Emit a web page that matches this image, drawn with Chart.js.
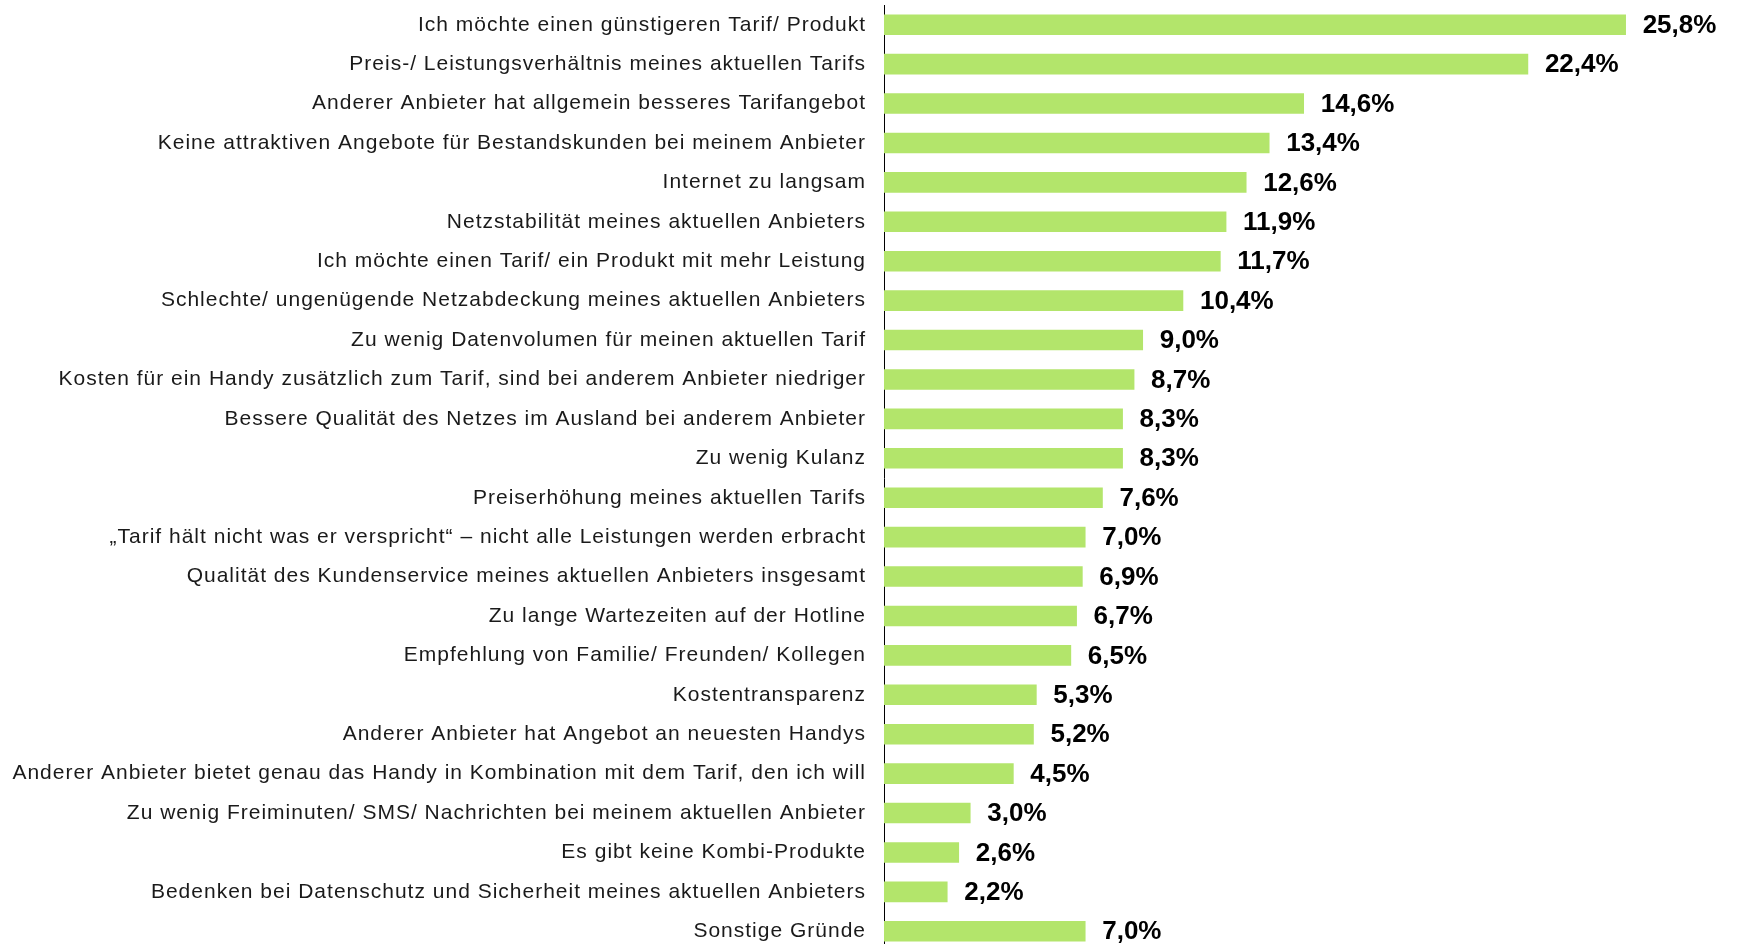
<!DOCTYPE html>
<html>
<head>
<meta charset="utf-8">
<script src="https://cdn.jsdelivr.net/npm/chart.js@4"></script>
<style>
  html, body { margin: 0; padding: 0; background: #fff; overflow: hidden; }
  /* slightly taller than the window: the last category runs off the bottom edge */
  #wrap { width: 1737px; height: 951px; position: relative; }
</style>
</head>
<body>
<div id="wrap"><canvas id="chart"></canvas></div>
<script>
'use strict'

const reasons = [
  'Ich möchte einen günstigeren Tarif/ Produkt',
  'Preis-/ Leistungsverhältnis meines aktuellen Tarifs',
  'Anderer Anbieter hat allgemein besseres Tarifangebot',
  'Keine attraktiven Angebote für Bestandskunden bei meinem Anbieter',
  'Internet zu langsam',
  'Netzstabilität meines aktuellen Anbieters',
  'Ich möchte einen Tarif/ ein Produkt mit mehr Leistung',
  'Schlechte/ ungenügende Netzabdeckung meines aktuellen Anbieters',
  'Zu wenig Datenvolumen für meinen aktuellen Tarif',
  'Kosten für ein Handy zusätzlich zum Tarif, sind bei anderem Anbieter niedriger',
  'Bessere Qualität des Netzes im Ausland bei anderem Anbieter',
  'Zu wenig Kulanz',
  'Preiserhöhung meines aktuellen Tarifs',
  '„Tarif hält nicht was er verspricht“ – nicht alle Leistungen werden erbracht',
  'Qualität des Kundenservice meines aktuellen Anbieters insgesamt',
  'Zu lange Wartezeiten auf der Hotline',
  'Empfehlung von Familie/ Freunden/ Kollegen',
  'Kostentransparenz',
  'Anderer Anbieter hat Angebot an neuesten Handys',
  'Anderer Anbieter bietet genau das Handy in Kombination mit dem Tarif, den ich will',
  'Zu wenig Freiminuten/ SMS/ Nachrichten bei meinem aktuellen Anbieter',
  'Es gibt keine Kombi-Produkte',
  'Bedenken bei Datenschutz und Sicherheit meines aktuellen Anbieters',
  'Sonstige Gründe'
]

const shares = [
  25.8, 22.4, 14.6, 13.4, 12.6, 11.9, 11.7, 10.4, 9.0, 8.7, 8.3, 8.3,
  7.6, 7.0, 6.9, 6.7, 6.5, 5.3, 5.2, 4.5, 3.0, 2.6, 2.2, 7.0
]

const formatShare = (v) => v.toFixed(1).replace('.', ',') + '%'

// the category labels in the original are spaced out a little
const tracking = {
  id: 'tracking',
  beforeDraw (chart) {
    chart.ctx.letterSpacing = '1px'
  }
}

// value labels to the right of each bar
const valueLabels = {
  id: 'valueLabels',
  afterDatasetsDraw (chart) {
    const { ctx } = chart
    const meta = chart.getDatasetMeta(0)
    ctx.save()
    ctx.letterSpacing = '0px'
    ctx.font = 'bold 26px "Liberation Sans", Arial, sans-serif'
    ctx.fillStyle = '#000'
    ctx.textAlign = 'left'
    ctx.textBaseline = 'middle'
    meta.data.forEach((bar, i) => {
      ctx.fillText(formatShare(shares[i]), bar.x + 17, bar.y + 1)
    })
    ctx.restore()
  }
}

new Chart(document.getElementById('chart'), {
  type: 'bar',
  data: {
    labels: reasons,
    datasets: [
      {
        data: shares,
        backgroundColor: '#b3e56b',
        borderWidth: 0,
        barThickness: 20
      }
    ]
  },
  options: {
    indexAxis: 'y',
    responsive: true,
    maintainAspectRatio: false,
    animation: false,
    layout: {
      padding: { top: 5, bottom: 0, right: 5, left: 0 }
    },
    plugins: {
      legend: { display: false },
      tooltip: { enabled: false }
    },
    scales: {
      x: {
        display: false,
        min: 0,
        max: 29.5
      },
      y: {
        afterFit (scale) {
          scale.width = 884
          scale.paddingTop = 0
          scale.paddingBottom = 0
        },
        grid: {
          display: true,
          color: 'transparent',
          drawTicks: false
        },
        border: {
          display: true,
          color: '#000',
          width: 1
        },
        ticks: {
          padding: 18,
          color: '#1a1a1a',
          autoSkip: false,
          font: {
            family: '"Liberation Sans", Arial, sans-serif',
            size: 21
          }
        }
      }
    }
  },
  plugins: [tracking, valueLabels]
})
</script>
</body>
</html>
